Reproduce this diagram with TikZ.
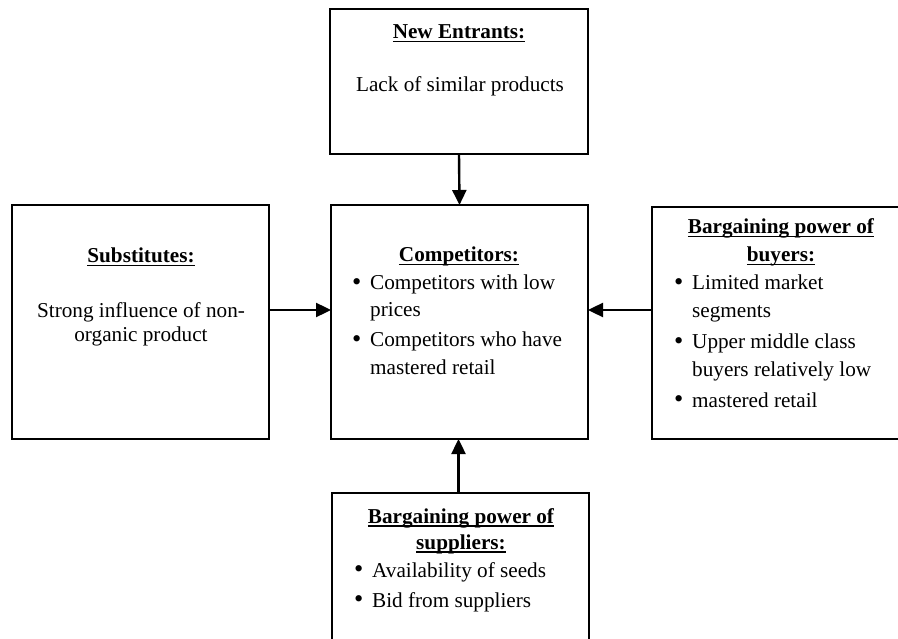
\documentclass[tikz,border=0pt]{standalone}
\usepackage{fontspec}
\setmainfont{Liberation Serif}
\usetikzlibrary{arrows.meta}

% bold heading with a rule drawn just under the baseline
\newcommand\ulhead[1]{\setbox0\hbox{\bfseries #1}\rlap{\rule[-3.5pt]{\wd0}{1.6pt}}\box0}
% enlarged bullet in a fixed-width box so that item text lines up with its continuation
\newcommand\itembul{\makebox[18pt][l]{\raisebox{-0.9pt}{\scalebox{1.25}{\textbullet}}}}

\tikzset{
  box/.style={draw, line width=1.8pt, rectangle, inner sep=0pt, outer sep=0pt},
  txt/.style={inner sep=0pt, font=\fontsize{21.2}{26}\selectfont},
  ctxt/.style={txt, anchor=base},
  ltxt/.style={txt, anchor=base west},
  arr/.style={line width=2.4pt, -{Triangle[length=15pt,width=14pt]}}
}

\begin{document}
\begin{tikzpicture}[x=1pt, y=-1pt]
  \useasboundingbox (0,0) rectangle (898,639);
  \fill[white] (0,0) rectangle (898,639);
  \clip (0,0) rectangle (898,639);

  % the five forces
  \node[box, minimum width=258pt, minimum height=145pt] (ne)   at (459,81.5)  {};
  \node[box, minimum width=257pt, minimum height=234pt] (sub)  at (140.5,322) {};
  \node[box, minimum width=257pt, minimum height=234pt] (comp) at (459.5,322) {};
  \node[box, minimum width=258pt, minimum height=232pt] (buy)  at (781,323)   {};
  \node[box, minimum width=257pt, minimum height=160pt] (sup)  at (460.5,573) {};

  % new entrants
  \node[ctxt] (neT) at (459,39) {\ulhead{New Entrants:}};
  \node[ctxt] (ne1) at (460,92) {Lack of similar products};

  % substitutes
  \node[ctxt] (subT) at (141,263) {\ulhead{Substitutes:}};
  \node[ctxt] (sub1) at (141,318) {Strong influence of non-};
  \node[ctxt] (sub2) at (141,342) {organic product};

  % competitors
  \node[ctxt] (compT) at (459,262) {\ulhead{Competitors:}};
  \node[ltxt] (comp1) at (352,290) {\itembul Competitors with low};
  \node[ltxt] (comp2) at (370,317) {prices};
  \node[ltxt] (comp3) at (352,347) {\itembul Competitors who have};
  \node[ltxt] (comp4) at (370,375) {mastered retail};

  % buyers
  \node[ctxt] (buyT1) at (781,234) {\ulhead{Bargaining power of}};
  \node[ctxt] (buyT2) at (781,262) {\ulhead{buyers:}};
  \node[ltxt] (buy1) at (674,290) {\itembul Limited market};
  \node[ltxt] (buy2) at (692,318) {segments};
  \node[ltxt] (buy3) at (674,349) {\itembul Upper middle class};
  \node[ltxt] (buy4) at (692,377) {buyers relatively low};
  \node[ltxt] (buy5) at (674,407) {\itembul mastered retail};

  % suppliers
  \node[ctxt] (supT1) at (461,523) {\ulhead{Bargaining power of}};
  \node[ctxt] (supT2) at (461,549) {\ulhead{suppliers:}};
  \node[ltxt] (sup1) at (354,577) {\itembul Availability of seeds};
  \node[ltxt] (sup2) at (354,607) {\itembul Bid from suppliers};

  % influences on the competitors
  \draw[arr] (ne.south) -- (comp.north);
  \draw[arr] ([yshift=12pt]sub.east) -- ([yshift=12pt]comp.west);
  \draw[arr] ([yshift=13pt]buy.west) -- ([yshift=12pt]comp.east);
  \draw[arr] ([xshift=-2pt]sup.north) -- ([xshift=-2pt]sup.north |- comp.south);
\end{tikzpicture}
\end{document}
